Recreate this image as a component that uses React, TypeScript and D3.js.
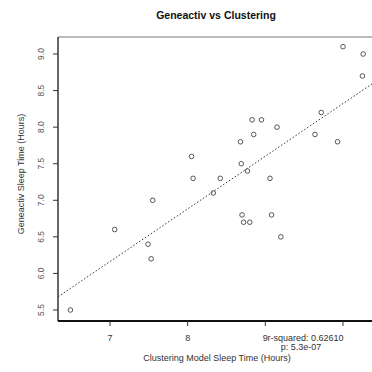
import React from "react";
import { scaleLinear, line, mean, sum } from "d3";

// clustering model sleep time (hours) vs geneactiv sleep time (hours)
const clusterHours = [
  10.0, 10.26, 10.25, 9.72, 8.83, 8.95, 9.15, 8.85, 9.64, 9.93, 8.68, 8.05,
  8.69, 8.77, 8.07, 8.42, 9.06, 7.55, 8.33, 7.06, 8.7, 9.08, 8.72, 8.8, 9.2,
  7.49, 7.53, 6.49,
];
const geneactivHours = [
  9.1, 9.0, 8.7, 8.2, 8.1, 8.1, 8.0, 7.9, 7.9, 7.8, 7.8, 7.6, 7.5, 7.4, 7.3,
  7.3, 7.3, 7.0, 7.1, 6.6, 6.8, 6.8, 6.7, 6.7, 6.5, 6.4, 6.2, 5.5,
];
const xTicks = [7, 8, 9];
const xTickMarks = [7, 8, 9, 10];
const yTicks = [5.5, 6.0, 6.5, 7.0, 7.5, 8.0, 8.5, 9.0];
const statLines = ["r-squared: 0.62610", "p: 5.3e-07"];

const W = 372;
const H = 372;
const left = 58;
const top = 37;
const bottom = 321;
const right = 400;

function App() {
  const x = scaleLinear().domain([7, 10]).range([110, 343]);
  const y = scaleLinear().domain([5.5, 9.0]).range([310, 54]);

  // least squares fit
  const mx = mean(clusterHours) as number;
  const my = mean(geneactivHours) as number;
  const sxy = sum(clusterHours, (d, i) => (d - mx) * (geneactivHours[i] - my));
  const sxx = sum(clusterHours, (d) => (d - mx) * (d - mx));
  const slope = sxy / sxx;
  const intercept = my - slope * mx;
  const x0 = x.invert(left);
  const x1 = x.invert(right);
  const fitPath = line<number>()
    .x((d) => x(d))
    .y((d) => y(intercept + slope * d))([x0, x1]);

  const font = "'Liberation Sans', Arial, sans-serif";

  return (
    <svg
      width={W}
      height={H}
      style={{ position: "absolute", left: 0, top: 0, background: "white" }}
      fontFamily={font}
    >
      <defs>
        <clipPath id="plotClip">
          <rect x={left} y={top} width={right - left} height={bottom - top} />
        </clipPath>
      </defs>
      <text x={216} y={19} textAnchor="middle" fontSize={10.5} fontWeight="bold" fill="#111">
        Geneactiv vs Clustering
      </text>

      {/* frame */}
      <line x1={left} x2={W} y1={top} y2={top} stroke="#777" strokeWidth={1} />
      <line x1={left} x2={left} y1={top} y2={bottom} stroke="#333" strokeWidth={1.5} />
      <line x1={left} x2={W} y1={bottom} y2={bottom} stroke="#111" strokeWidth={2} />

      {/* y axis */}
      {yTicks.map((t) => (
        <g key={t}>
          <line x1={left - 5} x2={left} y1={y(t)} y2={y(t)} stroke="#333" />
          <text
            transform={`translate(44,${y(t)}) rotate(-90)`}
            textAnchor="middle"
            fontSize={8.5}
            fill="#555"
          >
            {t.toFixed(1)}
          </text>
        </g>
      ))}
      <text
        transform={`translate(24,174) rotate(-90)`}
        textAnchor="middle"
        fontSize={9}
        fill="#333"
      >
        Geneactiv Sleep Time (Hours)
      </text>

      {/* x axis */}
      {xTickMarks.map((t) => (
        <line key={t} x1={x(t)} x2={x(t)} y1={bottom} y2={bottom + 5} stroke="#333" />
      ))}
      {xTicks.map((t) => (
        <text key={t} x={x(t)} y={341} textAnchor="middle" fontSize={9} fill="#333">
          {t}
        </text>
      ))}
      <text x={217} y={361} textAnchor="middle" fontSize={9} fill="#333">
        Clustering Model Sleep Time (Hours)
      </text>
      {statLines.map((s, i) => (
        <text
          key={s}
          x={i === 0 ? 305.5 : 301}
          y={341 + i * 9}
          textAnchor="middle"
          fontSize={9}
          fill="#333"
        >
          {s}
        </text>
      ))}

      {/* fit line */}
      <path
        d={fitPath || ""}
        fill="none"
        stroke="#333"
        strokeWidth={1}
        strokeDasharray="1.5,2"
        clipPath="url(#plotClip)"
      />

      {/* points */}
      {clusterHours.map((d, i) => (
        <circle
          key={i}
          cx={x(d)}
          cy={y(geneactivHours[i])}
          r={2.3}
          fill="none"
          stroke="#444"
          strokeWidth={0.9}
        />
      ))}
    </svg>
  );
}

export default App;
